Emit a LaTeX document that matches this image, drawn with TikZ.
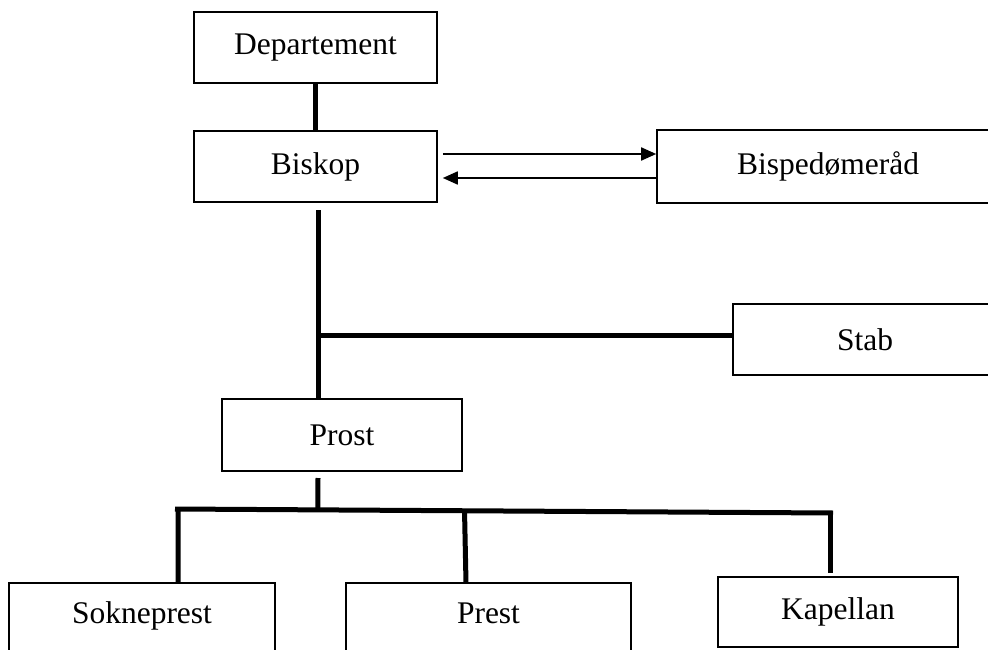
\documentclass[tikz,border=0pt]{standalone}
\usepackage{fontspec}
\setmainfont{Liberation Serif}
\usepackage{tikz}
\usetikzlibrary{arrows.meta, calc}

\begin{document}
\begin{tikzpicture}[x=1pt, y=-1pt, font=\fontsize{31.5}{36}\selectfont,
	box/.style={draw, line width=1.6pt, inner sep=0pt, minimum height=71pt},
	lowbox/.style={draw, line width=1.6pt, inner sep=0pt, text height=40pt, text depth=60pt},
	bar/.style={line width=5pt},
	link/.style={line width=1.8pt, -{Triangle[length=15pt, width=13pt]}}]
	\useasboundingbox (0,0) rectangle (988,650);
	\clip (0,0) rectangle (988,650);

	% top of the chart
	\node[box, minimum width=243pt] (dep) at (315.5,47.5) {Departement};
	\node[box, minimum width=243pt] (bis) at (315.5,166.5) {Biskop};
	\node[box, minimum width=342pt, minimum height=73pt] (rad) at (828,166.5) {Bispedømeråd};
	\node[box, minimum width=264pt] (stab) at (865,339.5) {Stab};
	\node[box, minimum width=240pt, minimum height=72pt] (prost) at (342,435) {Prost};

	% bottom row
	\node[lowbox, minimum width=266pt] (sok) at (142,633) {Sokneprest};
	\node[lowbox, minimum width=285pt] (prest) at (488.5,633) {Prest};
	\node[box, minimum width=240pt, minimum height=70pt] (kap) at (838,612) {Kapellan};

	\draw[bar] (dep.south) -- (bis.north);
	\draw[link] ([xshift=5pt, yshift=12.5pt]bis.east) -- ([yshift=12.5pt]bis.east -| rad.west);
	\draw[link] ([yshift=-11.5pt]bis.east -| rad.west) -- ([xshift=5pt, yshift=-11.5pt]bis.east);

	% trunk and branches
	\coordinate (top) at (318,210);
	\coordinate (split) at (318,335);
	\draw[bar] (top) -- (top |- prost.north);
	\draw[bar] (split) -- (split -| stab.west);

	\coordinate (busL) at (175,509);
	\coordinate (busR) at (833,513);
	\coordinate (pdown) at (318,478);
	\draw[bar] (pdown) -- ($(busL)!0.217!(busR)$);
	\draw[bar] (busL) -- (busR);
	\draw[bar] ($(busL)!0.0046!(busR)$) -- (178,583);
	\draw[bar] ($(busL)!0.44!(busR)$) -- (466,583);
	\draw[bar] (830.5,511) -- (830.5,573);
\end{tikzpicture}
\end{document}
